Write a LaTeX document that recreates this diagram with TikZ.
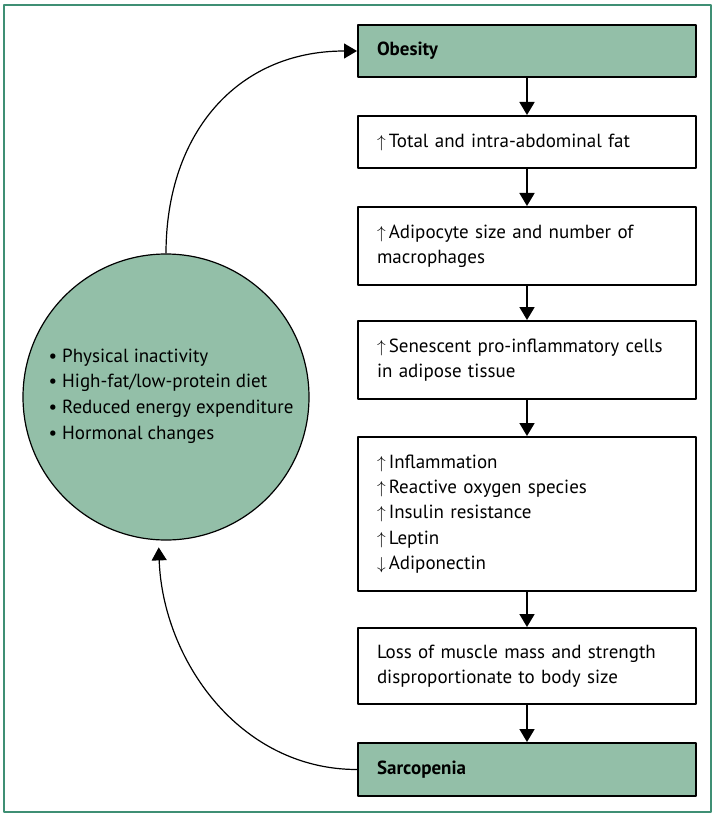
\documentclass[tikz,border=0pt]{standalone}
\usepackage{fontspec}
\setmainfont{PT Sans}
\usetikzlibrary{arrows.meta}
\definecolor{sage}{HTML}{93BFA8}
\definecolor{framegreen}{HTML}{3F8F74}
\newcommand\incr{$\uparrow$\,}
\newcommand\decr{$\downarrow$\,}

\begin{document}
\begin{tikzpicture}[x=1pt,y=1pt,line join=round,
    box/.style={draw,line width=2pt,anchor=north west,minimum width=338pt,
      text width=300pt,inner xsep=19pt,align=left,font=\fontsize{19}{25.3}\selectfont},
    keybox/.style={box,fill=sage,font=\fontsize{19}{25.3}\selectfont\bfseries},
    flow/.style={line width=1.8pt,-{Triangle[width=15pt,length=13pt]}},
    loop/.style={line width=1.2pt,-{Triangle[width=15pt,length=13pt]}}]
    \useasboundingbox (0,0) rectangle (715,-818);
    \draw[framegreen,line width=1.5pt] (4,-5) rectangle (711,-812);
    % right column
    \node[keybox,minimum height=52pt] (obes) at (357,-24) {Obesity};
    \node[box,minimum height=52pt] (fat) at (357,-115) {\incr Total and intra-abdominal fat};
    \node[box,minimum height=78pt] (adip) at (357,-206) {\incr Adipocyte size and number of\\macrophages};
    \node[box,minimum height=78pt] (senes) at (357,-320) {\incr Senescent pro-inflammatory cells\\in adipose tissue};
    \node[box,minimum height=154pt] (infl) at (357,-436) {\incr Inflammation\\\incr Reactive oxygen species\\\incr Insulin resistance\\\incr Leptin\\\decr Adiponectin};
    \node[box,minimum height=76pt] (loss) at (357,-627) {Loss of muscle mass and strength\\disproportionate to body size};
    \node[keybox,minimum height=53pt] (sarc) at (357,-742) {Sarcopenia};
    \foreach \a/\b in {obes/fat, fat/adip, adip/senes, senes/infl, infl/loss, loss/sarc}
    \draw[flow] (\a.south) -- (\b.north);
    % circle of causes
    \node[circle,draw,fill=sage,line width=1.2pt,minimum size=286pt] (causes) at (166,-397) {};
    \node[align=left,font=\fontsize{19}{25.6}\selectfont] (causelist) at (171,-396)
      {\textbullet\ Physical inactivity\\\textbullet\ High-fat/low-protein diet\\
       \textbullet\ Reduced energy expenditure\\\textbullet\ Hormonal changes};
    \draw[loop] (causes.north) to[out=90,in=180,looseness=1.1] (obes.west);
    \draw[loop,shorten >=7pt] (sarc.west) to[out=180,in=-88] (causes.267);
\end{tikzpicture}
\end{document}
